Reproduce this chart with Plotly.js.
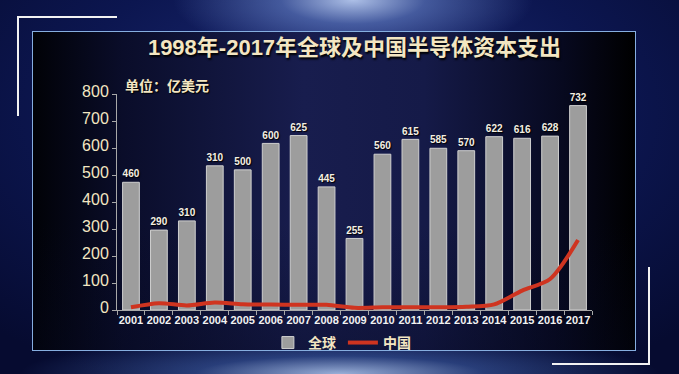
<!DOCTYPE html>
<html>
<head>
<meta charset="utf-8">
<script src="https://cdn.plot.ly/plotly-3.0.1.min.js"></script>
<style>
  html, body { margin: 0; padding: 0; width: 679px; height: 374px; overflow: hidden; }
  body {
    position: relative;
    background:
      radial-gradient(ellipse 180px 60px at 52% 0%, rgba(200,220,255,0.85) 0%, rgba(110,140,210,0.55) 40%, rgba(40,60,140,0) 100%),
      radial-gradient(ellipse 320px 40px at 50% 100%, rgba(190,215,255,0.8) 0%, rgba(80,120,200,0.45) 45%, rgba(20,40,110,0) 100%),
      radial-gradient(ellipse 500px 300px at 50% 30%, #1d2c78 0%, #0c1650 55%, #060b30 100%);
  }
  #panel {
    position: absolute; left: 32px; top: 31px; width: 602px; height: 318px;
    border: 1.5px solid #86aee0;
    background:
      linear-gradient(to bottom, rgba(0,0,0,0) 60%, rgba(5,8,30,0.35) 100%),
      linear-gradient(to right, #010207 0%, #0a0d2a 15%, #181d4e 45%, #151a48 65%, #07091f 88%, #000 100%);
  }
  .ln { position: absolute; background: #f2f2f2; }
  #chart { position: absolute; left: 0; top: 0; width: 679px; height: 374px; }
</style>
</head>
<body>
<div id="panel"></div>
<div class="ln" style="left:17px;top:16px;width:100px;height:2px;"></div>
<div class="ln" style="left:17px;top:16px;width:2px;height:100px;"></div>
<div class="ln" style="left:552px;top:363px;width:98px;height:2px;"></div>
<div class="ln" style="left:648px;top:267px;width:2px;height:98px;"></div>
<div id="chart"></div>
<script>
const years = ['2001','2002','2003','2004','2005','2006','2007','2008','2009','2010','2011','2012','2013','2014','2015','2016','2017'];
const globalValues = [473, 296, 330, 534, 519, 617, 646, 456, 265, 577, 632, 599, 590, 642, 636, 644, 757];
const globalLabels = ['460','290','310','310','500','600','625','445','255','560','615','585','570','622','616','628','732'];
const chinaValues = [10, 25, 17, 28, 21, 20, 19, 19, 8, 10, 10, 10, 12, 21, 72, 115, 259];
const yTicks = [0, 100, 200, 300, 400, 500, 600, 700, 800];

const FONT = 'Liberation Sans, Arial, Noto Sans CJK SC, sans-serif';
const CREAM = '#f3e6c2';

const traces = [
  {
    type: 'bar', name: '全球', x: years, y: globalValues,
    text: globalLabels, textposition: 'outside', cliponaxis: false,
    textfont: { family: FONT, size: 11, color: '#f4efe2', weight: 'bold', shadow: '1px 1px 1px #000' },
    marker: { color: '#9d9d9d', line: { color: '#cfcfcf', width: 1 } },
    hoverinfo: 'skip'
  },
  {
    type: 'scatter', mode: 'lines', name: '中国', x: years, y: chinaValues,
    line: { color: '#cf3420', width: 4, shape: 'spline', smoothing: 0.8 },
    hoverinfo: 'skip'
  }
];

const layout = {
  width: 679, height: 374,
  paper_bgcolor: 'rgba(0,0,0,0)', plot_bgcolor: 'rgba(0,0,0,0)',
  margin: { l: 117, r: 87, t: 94, b: 64, pad: 0, autoexpand: false },
  bargap: 0.4,
  showlegend: true,
  title: {
    text: '1998年-2017年全球及中国半导体资本支出',
    x: 0.5, xanchor: 'center', xref: 'paper',
    y: 48, yref: 'container', yanchor: 'middle',
    font: { family: FONT, size: 22, color: CREAM, weight: 'bold', shadow: '1px 2px 2px #000' }
  },
  xaxis: {
    type: 'category', range: [-0.5, 16.5], automargin: false,
    showline: true, linecolor: '#a8a8a8', linewidth: 1,
    ticks: 'outside', tickson: 'boundaries', ticklen: 4, tickcolor: '#a8a8a8',
    tickangle: 0,
    tickfont: { family: FONT, size: 11, color: '#f2f2f2', weight: 'bold' },
    showgrid: false, zeroline: false, fixedrange: true
  },
  yaxis: {
    range: [0, 800], tickvals: yTicks, ticktext: yTicks.map(String), automargin: false,
    showline: true, linecolor: '#a8a8a8', linewidth: 1,
    ticks: 'outside', ticklen: 4, tickcolor: '#a8a8a8',
    ticklabelshift: -3,
    tickfont: { family: FONT, size: 16, color: CREAM },
    showgrid: false, zeroline: false, fixedrange: true
  },
  legend: {
    orientation: 'h', xref: 'container', x: 0.505, xanchor: 'center',
    yref: 'container', y: 0.083, yanchor: 'middle',
    font: { family: FONT, size: 14, color: CREAM, weight: 'bold' },
    itemwidth: 30, entrywidth: 30, entrywidthmode: 'pixels',
    bgcolor: 'rgba(0,0,0,0)', traceorder: 'normal'
  },
  annotations: [
    {
      text: '单位：亿美元', xref: 'paper', yref: 'paper', x: 0.013, y: 1.035,
      xanchor: 'left', yanchor: 'middle', showarrow: false,
      font: { family: FONT, size: 14, color: CREAM, weight: 'bold', shadow: '1px 1px 1px #000' }
    }
  ]
};

Plotly.newPlot('chart', traces, layout, { displayModeBar: false, staticPlot: true });
</script>
</body>
</html>
